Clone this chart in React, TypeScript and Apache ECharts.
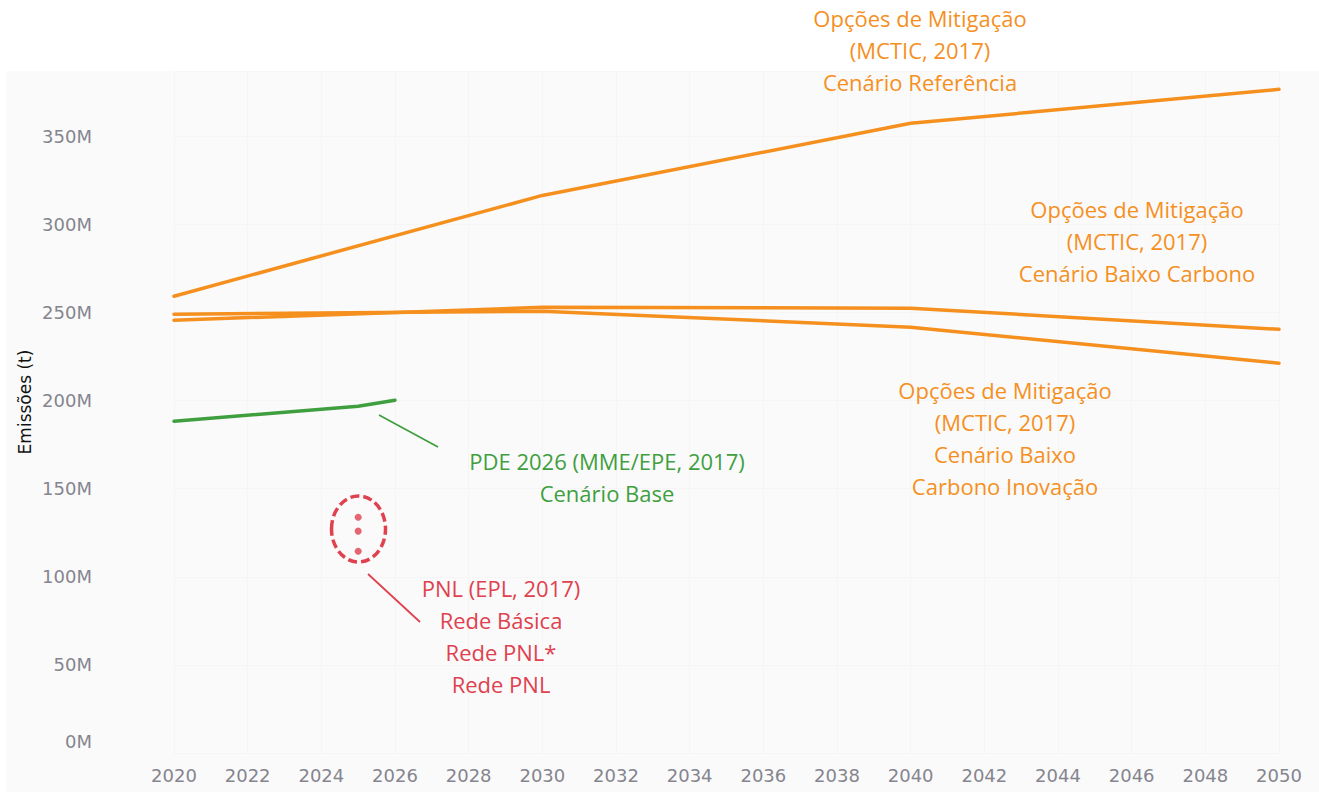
import React, { useEffect, useRef } from "react";
import * as echarts from "echarts";

const years = [2020, 2030, 2040, 2050];
const referencia = [259.2e6, 316.4e6, 357.3e6, 376.6e6];
const baixoCarbono = [245.6e6, 252.9e6, 252.4e6, 240.4e6];
const baixoCarbonoInovacao = [249.0e6, 250.7e6, 241.6e6, 221.2e6];
const pdeYears = [2020, 2025, 2026];
const pdeBase = [188.3e6, 196.8e6, 200.2e6];
const pnlYear = 2025;
const pnlValues = [133.8e6, 125.9e6, 114.5e6];

const ORANGE = "#f5901f";
const GREEN = "#3f9f3f";
const RED = "#e0414f";
const FONT = "'Open Sans', sans-serif";
const AXFONT = "DejaVu Sans";

export default function App() {
  const ref = useRef<HTMLDivElement>(null);
  useEffect(() => {
    if (!ref.current) return;
    const chart = echarts.init(ref.current, null, { renderer: "svg" });
    const pair = (xs: number[], ys: number[]) => xs.map((x, i) => [x, ys[i]]);
    const lineSeries = (name: string, data: number[][], color: string, w: number) => ({
      name,
      type: "line",
      data,
      showSymbol: false,
      symbol: "none",
      lineStyle: { color, width: w, cap: "round" },
      z: 3,
    });
    const label = (x: number, y: number, lines: string[], color: string) =>
      lines.map((t, i) => ({
        type: "text",
        x,
        y: y + i * 32,
        style: {
          text: t,
          fill: color,
          font: `22px ${FONT}`,
          textAlign: "center",
          textVerticalAlign: "middle",
        },
        z: 10,
      }));
    chart.setOption({
      animation: false,
      grid: { left: 174, right: 40, top: 71, bottom: 39 },
      xAxis: {
        type: "value",
        min: 2020,
        max: 2050,
        interval: 2,
        axisLine: { show: false },
        axisTick: { show: false },
        axisLabel: {
          color: "#85858f",
          fontSize: 18,
          fontFamily: AXFONT,
          margin: 13,
          formatter: (v: number) => String(v),
        },
        splitLine: { show: true, lineStyle: { color: "#f5f5f5", width: 1 } },
      },
      yAxis: {
        type: "value",
        min: 0,
        max: 387e6,
        interval: 50e6,
        axisLine: { show: false },
        axisTick: { show: false },
        axisLabel: {
          color: "#85858f",
          fontSize: 18,
          fontFamily: AXFONT,
          margin: 82,
          formatter: (v: number) =>
            v > 350e6 ? "" : v === 0 ? "{z|0M}" : `${v / 1e6}M`,
          rich: {
            z: { color: "#85858f", fontSize: 18, fontFamily: AXFONT, padding: [0, 0, 24, 0] },
          },
        },
        splitLine: { show: true, lineStyle: { color: "#f5f5f5", width: 1 } },
      },
      graphic: [
        {
          type: "rect",
          shape: { x: 6, y: 71, width: 1319, height: 730 },
          style: { fill: "#fafafa" },
          z: -10,
          silent: true,
        },
        {
          type: "text",
          x: 25,
          y: 402,
          rotation: Math.PI / 2,
          style: {
            text: "Emissões (t)",
            fill: "#111",
            fontSize: 17,
            fontFamily: AXFONT,
            textAlign: "center",
            textVerticalAlign: "middle",
          },
          z: 10,
        },
        {
          type: "line",
          shape: { x1: 379, y1: 415, x2: 438, y2: 447 },
          style: { stroke: GREEN, lineWidth: 1.8 },
          z: 10,
        },
        {
          type: "line",
          shape: { x1: 368, y1: 574, x2: 420, y2: 622 },
          style: { stroke: RED, lineWidth: 1.8 },
          z: 10,
        },
        {
          type: "ellipse",
          shape: { cx: 358.5, cy: 529, rx: 27, ry: 33 },
          style: { fill: "none", stroke: RED, lineWidth: 3.5, lineDash: [9, 4] },
          z: 10,
        },
        ...label(920, 18, ["Opções de Mitigação", "(MCTIC, 2017)", "Cenário Referência"], ORANGE),
        ...label(1137, 209, ["Opções de Mitigação", "(MCTIC, 2017)", "Cenário Baixo Carbono"], ORANGE),
        ...label(1005, 390, ["Opções de Mitigação", "(MCTIC, 2017)", "Cenário Baixo", "Carbono Inovação"], ORANGE),
        ...label(607, 461, ["PDE 2026 (MME/EPE, 2017)", "Cenário Base"], GREEN),
        ...label(501, 588, ["PNL (EPL, 2017)", "Rede Básica", "Rede PNL*", "Rede PNL"], RED),
      ],
      series: [
        lineSeries("Cenário Referência", pair(years, referencia), ORANGE, 3.5),
        lineSeries("Cenário Baixo Carbono", pair(years, baixoCarbono), ORANGE, 3.5),
        lineSeries("Cenário Baixo Carbono Inovação", pair(years, baixoCarbonoInovacao), ORANGE, 3.5),
        lineSeries("PDE 2026 Cenário Base", pair(pdeYears, pdeBase), GREEN, 3.5),
        {
          name: "PNL",
          type: "scatter",
          data: pnlValues.map((v) => [pnlYear, v]),
          symbolSize: 7,
          itemStyle: { color: RED },
          z: 4,
        },
      ],
    });
    return () => chart.dispose();
  }, []);
  return <div ref={ref} style={{ width: 1319, height: 792, position: "absolute", left: 0, top: 0 }} />;
}
